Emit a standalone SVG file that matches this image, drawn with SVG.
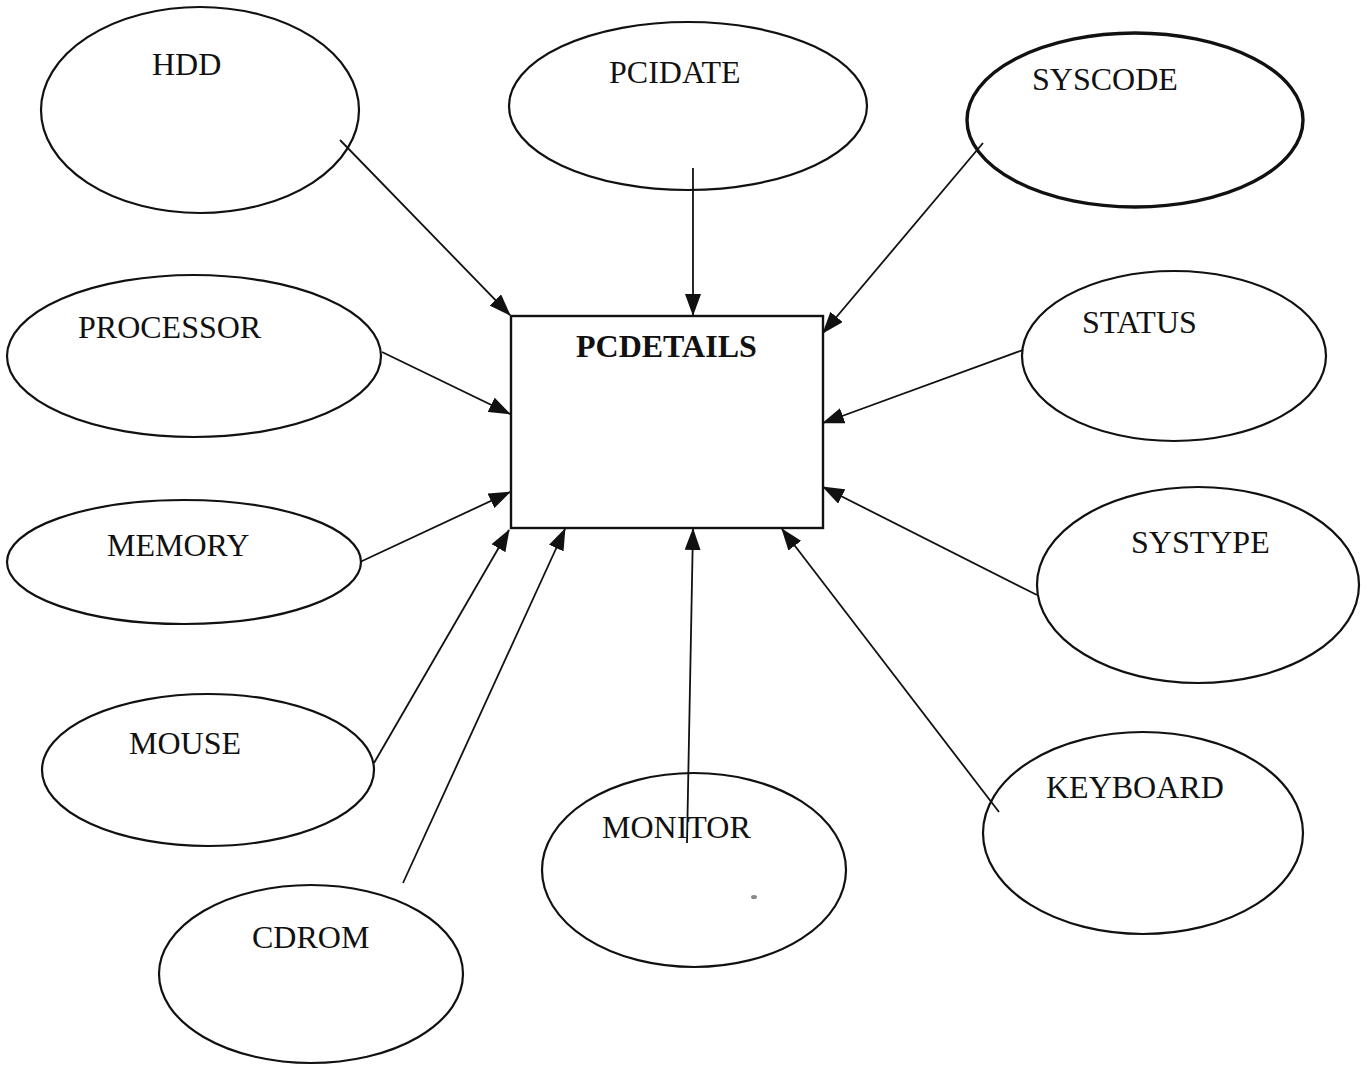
<svg xmlns="http://www.w3.org/2000/svg" width="1372" height="1065" viewBox="0 0 1372 1065">
  <style>
    .attr { fill: none; stroke: #111; stroke-width: 2.2; }
    .attr.heavy { stroke-width: 3.4; }
    .entity { fill: #fff; stroke: #111; stroke-width: 2.4; }
    .lbl { font-family: "Liberation Serif", "Times New Roman", serif; font-size: 32px; fill: #111; }
    .title { font-weight: bold; }
    .link { stroke: #111; stroke-width: 1.8; fill: none; marker-end: url(#head); }
  </style>
  <defs>
    <marker id="head" markerUnits="userSpaceOnUse" markerWidth="22" markerHeight="16" viewBox="0 0 22 16" refX="21" refY="8" orient="auto">
      <path d="M0,0 L22,8 L0,16 Z" fill="#111"/>
    </marker>
  </defs>
  <rect width="1372" height="1065" fill="#fff"/>

  <!-- central entity -->
  <g id="pcdetails">
    <rect class="entity" x="511" y="316" width="312" height="212"/>
    <text class="lbl title" x="576" y="357">PCDETAILS</text>
  </g>

  <!-- attributes -->
  <g id="hdd">
    <ellipse class="attr" cx="200" cy="110" rx="159" ry="103"/>
    <text class="lbl" x="152" y="75">HDD</text>
  </g>
  <g id="pcidate">
    <ellipse class="attr" cx="688" cy="106" rx="179" ry="84"/>
    <text class="lbl" x="609" y="83">PCIDATE</text>
  </g>
  <g id="syscode">
    <ellipse class="attr heavy" cx="1135" cy="120" rx="168" ry="87"/>
    <text class="lbl" x="1032" y="90">SYSCODE</text>
  </g>
  <g id="processor">
    <ellipse class="attr" cx="194" cy="356" rx="187" ry="81"/>
    <text class="lbl" x="78" y="338">PROCESSOR</text>
  </g>
  <g id="status">
    <ellipse class="attr" cx="1174" cy="356" rx="152" ry="85"/>
    <text class="lbl" x="1082" y="333">STATUS</text>
  </g>
  <g id="memory">
    <ellipse class="attr" cx="184" cy="562" rx="177" ry="62"/>
    <text class="lbl" x="107" y="556">MEMORY</text>
  </g>
  <g id="systype">
    <ellipse class="attr" cx="1198" cy="585" rx="161" ry="98"/>
    <text class="lbl" x="1131" y="553">SYSTYPE</text>
  </g>
  <g id="mouse">
    <ellipse class="attr" cx="208" cy="770" rx="166" ry="76"/>
    <text class="lbl" x="129" y="754">MOUSE</text>
  </g>
  <g id="keyboard">
    <ellipse class="attr" cx="1143" cy="833" rx="160" ry="101"/>
    <text class="lbl" x="1046" y="798">KEYBOARD</text>
  </g>
  <g id="monitor">
    <ellipse class="attr" cx="694" cy="870" rx="152" ry="97"/>
    <text class="lbl" x="602" y="838">MONITOR</text>
    <ellipse cx="754" cy="897" rx="3" ry="2" fill="#888"/>
  </g>
  <g id="cdrom">
    <ellipse class="attr" cx="311" cy="974" rx="152" ry="89"/>
    <text class="lbl" x="252" y="948">CDROM</text>
  </g>

  <!-- connectors -->
  <g id="connectors">
    <line class="link" x1="340" y1="140" x2="510" y2="315"/>
    <line class="link" x1="693" y1="168" x2="693" y2="315"/>
    <line class="link" x1="983" y1="143" x2="823" y2="333"/>
    <line class="link" x1="382" y1="352" x2="510" y2="414"/>
    <line class="link" x1="1023" y1="350" x2="823" y2="423"/>
    <line class="link" x1="360" y1="562" x2="510" y2="492"/>
    <line class="link" x1="1037" y1="595" x2="823" y2="487"/>
    <line class="link" x1="374" y1="763" x2="509" y2="530"/>
    <line class="link" x1="403" y1="883" x2="565" y2="529"/>
    <line class="link" x1="687" y1="843" x2="693" y2="529"/>
    <line class="link" x1="999" y1="812" x2="782" y2="529"/>
  </g>
</svg>
